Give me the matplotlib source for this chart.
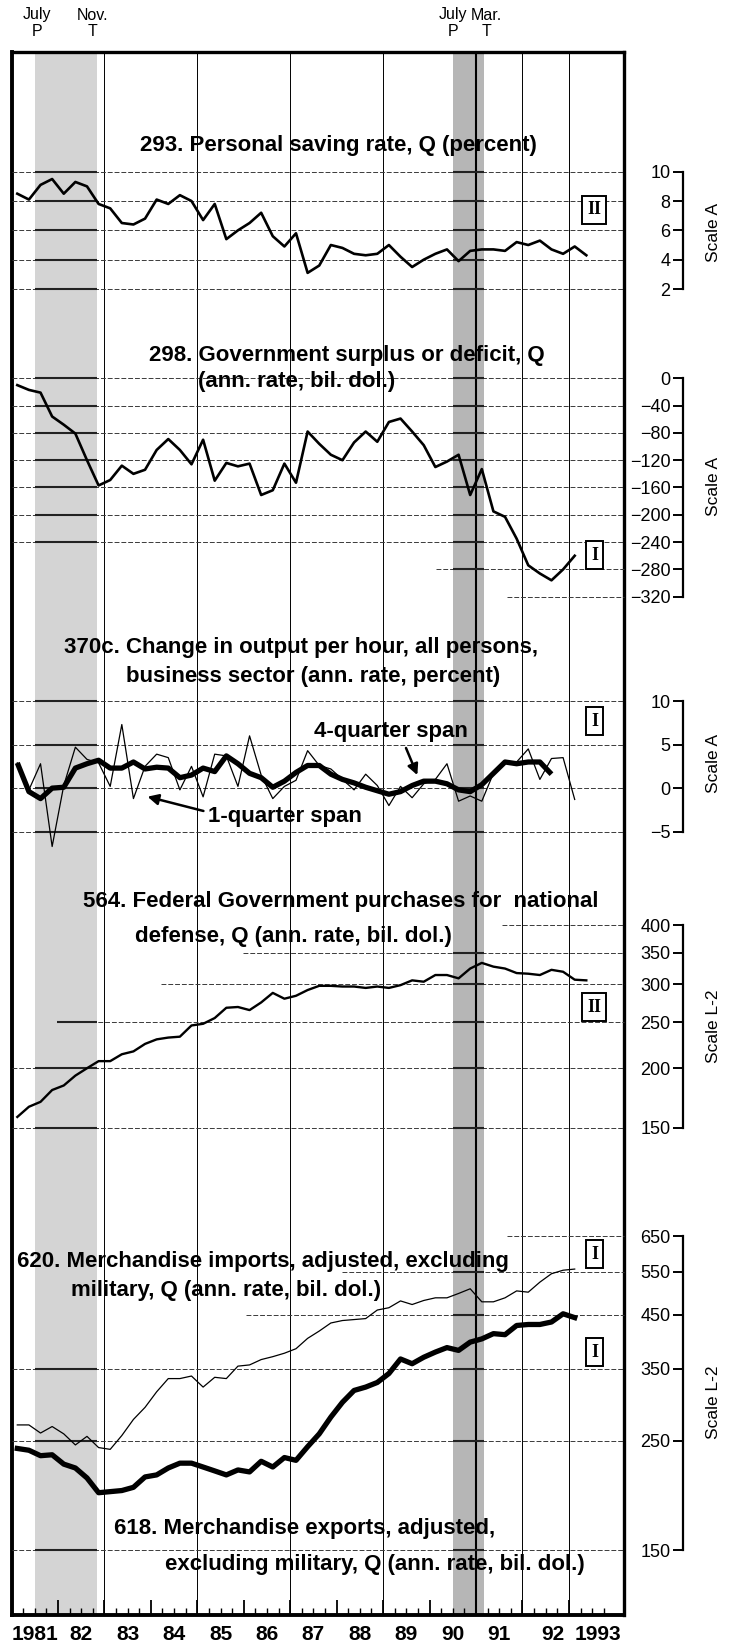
import numpy as np
import matplotlib
matplotlib.use("Agg")
import matplotlib.pyplot as plt
from matplotlib.ticker import FixedLocator, FixedFormatter, NullLocator
from matplotlib.transforms import blended_transform_factory

plt.rcParams['font.family'] = ['Liberation Sans', 'DejaVu Sans']

# quarterly series, starting 1981 Q1
saving_rate = [8.5, 8.1, 9.1, 9.5, 8.5, 9.3, 9.0, 7.8, 7.5, 6.5,
               6.4, 6.8, 8.1, 7.8, 8.4, 8.0, 6.7, 7.8, 5.4, 6.0,
               6.5, 7.2, 5.6, 4.9, 5.8, 3.1, 3.6, 5.0, 4.8, 4.4,
               4.3, 4.4, 5.0, 4.2, 3.5, 4.0, 4.4, 4.7, 3.9, 4.6,
               4.7, 4.7, 4.6, 5.2, 5.0, 5.3, 4.7, 4.4, 4.9, 4.3]

gov_surplus = [-10, -17, -21, -56, -68, -81, -120, -157, -149, -128,
               -140, -134, -105, -89, -105, -126, -90, -150, -124, -129,
               -125, -171, -164, -125, -153, -78, -96, -112, -120, -94,
               -78, -93, -64, -59, -78, -98, -130, -122, -112, -171,
               -133, -195, -203, -235, -274, -286, -296, -280, -260]

output_1q = [2.9, -0.2, 2.8, -6.7, 0.3, 4.7, 3.3, 2.9, 0.2, 7.3,
             -1.2, 2.5, 3.9, 3.5, -0.2, 2.5, -1.0, 3.9, 3.7, 0.2,
             6.0, 1.5, -1.2, 0.2, 0.9, 4.3, 2.6, 2.2, 1.0, -0.2,
             1.6, 0.3, -2.0, 0.2, -1.1, 0.5, 1.0, 2.8, -1.5, -0.9,
             -1.5, 1.7, 3.0, 3.0, 4.5, 1.0, 3.4, 3.5, -1.3]

output_4q = [2.9, -0.4, -1.2, 0.0, 0.1, 2.3, 2.8, 3.2, 2.3, 2.3,
             3.0, 2.2, 2.4, 2.3, 1.2, 1.5, 2.3, 1.9, 3.7, 2.8,
             1.7, 1.2, 0.1, 0.8, 1.8, 2.6, 2.6, 1.6, 1.0, 0.6,
             0.1, -0.3, -0.7, -0.4, 0.3, 0.8, 0.8, 0.5, -0.2, -0.4,
             0.4, 1.7, 3.0, 2.8, 3.0, 3.0, 1.6]

defense = [158, 166, 170, 180, 184, 193, 200, 207, 207, 214,
           217, 225, 230, 232, 233, 246, 248, 255, 268, 269,
           265, 275, 288, 280, 284, 292, 298, 298, 297, 297,
           295, 297, 295, 299, 306, 304, 314, 314, 309, 324,
           333, 327, 324, 317, 316, 314, 322, 319, 307, 306]

imports = [269, 269, 259, 267, 258, 245, 255, 242, 240, 256,
           276, 292, 314, 334, 334, 338, 321, 336, 334, 354,
           356, 365, 370, 376, 384, 403, 417, 433, 438, 440,
           442, 460, 465, 480, 472, 481, 487, 487, 497, 508,
           478, 478, 487, 503, 500, 524, 545, 554, 557]

exports = [241, 239, 233, 234, 224, 220, 210, 196, 197, 198,
           201, 211, 213, 220, 225, 225, 221, 217, 213, 218,
           216, 227, 221, 231, 228, 243, 258, 279, 299, 316,
           321, 328, 342, 366, 358, 369, 378, 386, 381, 396,
           402, 412, 410, 428, 430, 430, 435, 452, 444]

recessions = [(1981.5, 1982.83), (1990.5, 1991.17)]
year_labels = ["1981", "82", "83", "84", "85", "86", "87", "88",
               "89", "90", "91", "92", "1993"]

W, H = 741, 1644
X0, X1 = 11.5, 624.0          # pixel columns of 1981.0 and the right frame
YEAR_PX = 46.45
XLIM = (1981.0, 1981.0 + (X1 - X0) / YEAR_PX)
SCALE_X = 683.0               # pixel column of the scale brackets


def quarters(n):
    return 1981.125 + 0.25 * np.arange(n)


fig = plt.figure(figsize=(W / 100, H / 100), dpi=100)


def px_axes(top, bottom, z):
    return fig.add_axes([X0 / W, 1 - bottom / H, (X1 - X0) / W, (bottom - top) / H],
                        zorder=z)


# ---- outer frame with recession shading and year grid ----
frame = px_axes(51.7, 1615, 0)
frame.set_xlim(*XLIM)
frame.set_ylim(0, 1)
frame.set_yticks([])
for (a, b), c in zip(recessions, ['#d4d4d4', '#b6b6b6']):
    frame.axvspan(a, b, color=c, lw=0)
for yr in [1983, 1985, 1987, 1989, 1992, 1993]:
    frame.axvline(yr, color='black', lw=0.7)
frame.axvline(1991, color='black', lw=1.5)
frame.xaxis.set_major_locator(FixedLocator(range(1982, 1994)))
frame.xaxis.set_minor_locator(FixedLocator([y + q / 4 for y in range(1981, 1994)
                                            for q in (1, 2, 3)]))
frame.tick_params(axis='x', which='major', direction='in', length=11, width=1.3,
                  labelbottom=False)
frame.tick_params(axis='x', which='minor', direction='in', length=5, width=1.0)
frame.spines['left'].set_linewidth(2.8)
frame.spines['bottom'].set_linewidth(2.8)
frame.spines['top'].set_linewidth(2.4)
frame.spines['right'].set_linewidth(2.4)

page = fig.add_axes([0, 0, 1, 1], zorder=5)
page.set_xlim(0, W)
page.set_ylim(H, 0)
page.axis('off')
bt = blended_transform_factory(frame.transData, page.transData)

# year labels under the frame
label_pos = [y + 0.5 for y in range(1981, 1992)] + [1992.65, 1993.62]
for x, s in zip(label_pos, year_labels):
    page.text(x, 1634, s, transform=bt, ha='center', va='center',
              fontsize=15, fontweight='bold')

# peak / trough markers
for x, m, l in [(1981.55, 'July', 'P'), (1982.75, 'Nov.', 'T'),
                (1990.5, 'July', 'P'), (1991.23, 'Mar.', 'T')]:
    page.text(x, 15, m, transform=bt, ha='center', va='center', fontsize=11.5)
    page.text(x, 31.5, l, transform=bt, ha='center', va='center', fontsize=11.5)


def panel(top, bottom, lo, hi, ticks, labels, log=False):
    ax = px_axes(top, bottom, 2)
    ax.set_xlim(*XLIM)
    if log:
        ax.set_yscale('log')
    ax.set_ylim(lo, hi)
    ax.patch.set_visible(False)
    for s in ['top', 'right', 'bottom']:
        ax.spines[s].set_visible(False)
    sp = ax.spines['left']
    sp.set_position(('axes', (SCALE_X - X0) / (X1 - X0)))
    sp.set_bounds(lo, hi)
    sp.set_linewidth(1.6)
    ax.yaxis.set_major_locator(FixedLocator(ticks))
    ax.yaxis.set_major_formatter(FixedFormatter(labels))
    ax.yaxis.set_minor_locator(NullLocator())
    ax.tick_params(axis='y', direction='out', length=7, width=1.4, pad=2,
                   labelsize=13)
    ax.set_xticks([])
    return ax


def grid(ax, levels, starts=None):
    if starts is None:
        starts = [XLIM[0]] * len(levels)
    for v, x0 in zip(levels, starts):
        ax.hlines(v, x0, XLIM[1], color='#3a3a3a', lw=0.7,
                  linestyles=(0, (5, 2)), clip_on=False, zorder=1)
        for a, b in recessions:
            if b > x0:
                ax.hlines(v, max(a, x0), b, color='#222222', lw=1.5,
                          clip_on=False, zorder=1)


def minus(v):
    return str(v).replace('-', '\u2212')


# 293. Personal saving rate
ax1 = panel(171.7, 289, 2, 10, [2, 4, 6, 8, 10], ['2', '4', '6', '8', '10'])
grid(ax1, [2, 4, 6, 8, 10])
ax1.plot(quarters(len(saving_rate)), saving_rate, color='black', lw=1.9, clip_on=False)

# 298. Government surplus or deficit
t2 = [0, -40, -80, -120, -160, -200, -240, -280, -320]
ax2 = panel(378.3, 596.7, -320, 0, t2, [minus(v) for v in t2])
grid(ax2, t2, [XLIM[0]] * 7 + [1990.14, 1991.66])
ax2.plot(quarters(len(gov_surplus)), gov_surplus, color='black', lw=1.9, clip_on=False)

# 370c. Change in output per hour
t3 = [-5, 0, 5, 10]
ax3 = panel(701, 831.7, -5, 10, t3, [minus(v) for v in t3])
grid(ax3, t3)
ax3.plot(quarters(len(output_1q)), output_1q, color='black', lw=0.9, clip_on=False)
ax3.plot(quarters(len(output_4q)), output_4q, color='black', lw=3.8, clip_on=False,
         solid_capstyle='butt')
ax3.annotate('', xy=(1989.76, 1.2), xytext=(1989.47, 4.9),
             arrowprops=dict(arrowstyle='-|>', color='black', lw=1.8, mutation_scale=16))
ax3.annotate('', xy=(1983.87, -0.9), xytext=(1985.19, -2.7),
             arrowprops=dict(arrowstyle='-|>', color='black', lw=1.8, mutation_scale=16))

# 564. Federal Government purchases for national defense
t4 = [150, 200, 250, 300, 350, 400]
ax4 = panel(925, 1127.7, 150, 400, t4, [str(v) for v in t4], log=True)
grid(ax4, t4, [XLIM[0], XLIM[0], 1981.99, 1984.21, 1985.99, 1991.56])
ax4.plot(quarters(len(defense)), defense, color='black', lw=1.7, clip_on=False)

# 620 / 618. Merchandise imports and exports
t5 = [150, 250, 350, 450, 550, 650]
ax5 = panel(1236, 1550, 150, 650, t5, [str(v) for v in t5], log=True)
grid(ax5, t5, [XLIM[0], XLIM[0], XLIM[0], 1986.04, 1988.11, 1991.66])
ax5.plot(quarters(len(imports)), imports, color='black', lw=0.9, clip_on=False)
ax5.plot(quarters(len(exports)), exports, color='black', lw=3.8, clip_on=False)

# series titles
titles = [
    (139.6, 146, "293. Personal saving rate, Q (percent)"),
    (149.0, 356, "298. Government surplus or deficit, Q"),
    (198.4, 382, "(ann. rate, bil. dol.)"),
    (64.3, 647, "370c. Change in output per hour, all persons,"),
    (125.5, 676, "business sector (ann. rate, percent)"),
    (83.1, 901, "564. Federal Government purchases for  national"),
    (134.9, 936, "defense, Q (ann. rate, bil. dol.)"),
    (17.3, 1261, "620. Merchandise imports, adjusted, excluding"),
    (71.4, 1290, "military, Q (ann. rate, bil. dol.)"),
    (113.7, 1528, "618. Merchandise exports, adjusted,"),
    (165.4, 1564, "excluding military, Q (ann. rate, bil. dol.)"),
    (313.6, 731, "4-quarter span"),
    (207.8, 816, "1-quarter span"),
]
for x, y, s in titles:
    page.text(x, y, s, ha='left', va='center', fontsize=16, fontweight='bold')

# scale names at the right
for y, s in [(232, "Scale A"), (486, "Scale A"), (763, "Scale A"),
             (1026, "Scale L-2"), (1402, "Scale L-2")]:
    page.text(714, y, s, ha='center', va='center', rotation=90, fontsize=12.5)

# roman numeral boxes
for y, s in [(210, "II"), (555, "I"), (721, "I"), (1007, "II"),
             (1254, "I"), (1352, "I")]:
    page.text(594.4, y, s, ha='center', va='center', fontsize=13,
              fontweight='bold', family='Liberation Serif',
              bbox=dict(boxstyle='square,pad=0.28', fc='white', ec='black', lw=1.4))

fig.savefig('out.png', dpi=100)
